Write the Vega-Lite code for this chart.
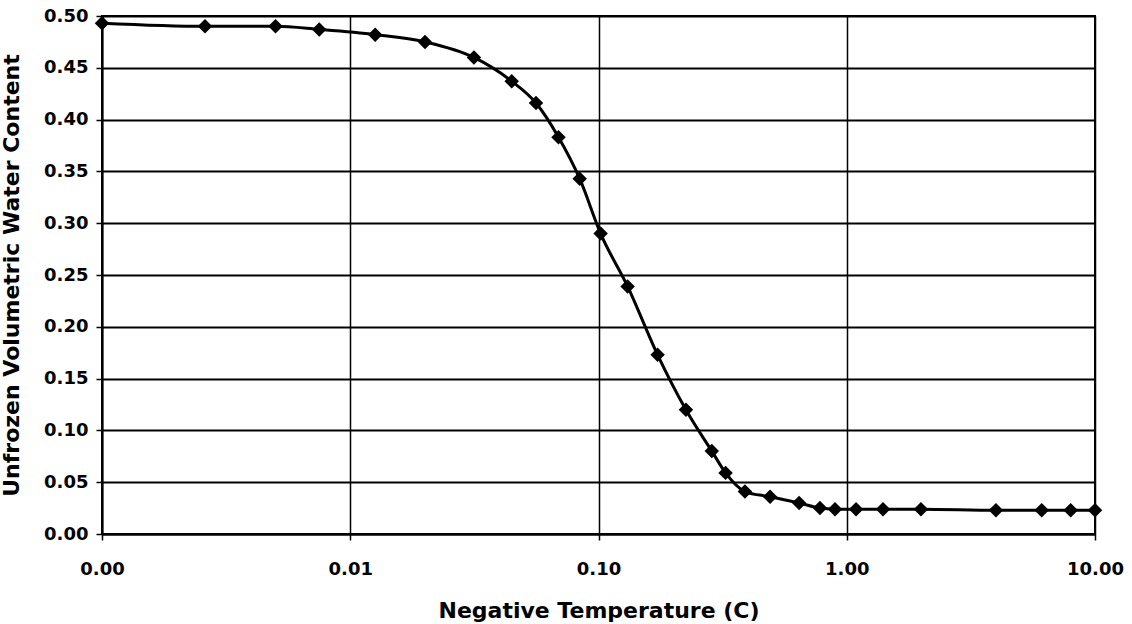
{
  "$schema": "https://vega.github.io/schema/vega-lite/v6.json",
  "width": 993,
  "height": 518,
  "autosize": {"type": "none"},
  "padding": {"left": 102, "top": 16, "right": 37, "bottom": 90},
  "background": "white",
  "config": {
    "font": "DejaVu Sans",
    "view": {"stroke": "black", "strokeWidth": 2},
    "axis": {
      "domainColor": "black", "domainWidth": 2,
      "tickColor": "black", "tickWidth": 1.5, "tickSize": 6,
      "gridColor": "black", "gridOpacity": 1,
      "labelFont": "DejaVu Sans", "labelFontWeight": "bold", "labelFontSize": 18, "labelColor": "black",
      "titleFont": "DejaVu Sans", "titleFontWeight": "bold", "titleFontSize": 22, "titleColor": "black"
    }
  },
  "data": {"values": [
    {"t": 0.001, "w": 0.493},
    {"t": 0.0026, "w": 0.490},
    {"t": 0.005, "w": 0.490},
    {"t": 0.0075, "w": 0.487},
    {"t": 0.0126, "w": 0.482},
    {"t": 0.020, "w": 0.475},
    {"t": 0.0315, "w": 0.460},
    {"t": 0.0447, "w": 0.437},
    {"t": 0.056, "w": 0.416},
    {"t": 0.069, "w": 0.383},
    {"t": 0.084, "w": 0.343},
    {"t": 0.102, "w": 0.290},
    {"t": 0.131, "w": 0.239},
    {"t": 0.173, "w": 0.173},
    {"t": 0.225, "w": 0.120},
    {"t": 0.286, "w": 0.080},
    {"t": 0.325, "w": 0.059},
    {"t": 0.389, "w": 0.041},
    {"t": 0.491, "w": 0.036},
    {"t": 0.643, "w": 0.030},
    {"t": 0.78, "w": 0.025},
    {"t": 0.897, "w": 0.024},
    {"t": 1.09, "w": 0.024},
    {"t": 1.40, "w": 0.024},
    {"t": 1.99, "w": 0.024},
    {"t": 3.99, "w": 0.023},
    {"t": 6.10, "w": 0.023},
    {"t": 7.98, "w": 0.023},
    {"t": 10, "w": 0.023}
  ]},
  "encoding": {
    "x": {
      "field": "t", "type": "quantitative",
      "scale": {"type": "log", "domain": [0.001, 10], "nice": false},
      "axis": {
        "title": "Negative Temperature (C)",
        "values": [0.001, 0.01, 0.1, 1, 10],
        "format": ".2f",
        "grid": true, "gridWidth": 1.5,
        "labelPadding": 20, "titlePadding": 22,
        "labelFlush": false
      }
    },
    "y": {
      "field": "w", "type": "quantitative",
      "scale": {"domain": [0, 0.5], "nice": false},
      "axis": {
        "title": "Unfrozen Volumetric Water Content",
        "values": [0, 0.05, 0.1, 0.15, 0.2, 0.25, 0.3, 0.35, 0.4, 0.45, 0.5],
        "format": ".2f",
        "grid": true, "gridWidth": 2,
        "labelPadding": 8, "titlePadding": 20,
        "labelFlush": false
      }
    }
  },
  "layer": [
    {"mark": {"type": "line", "color": "black", "strokeWidth": 3, "interpolate": "monotone"}},
    {"mark": {"type": "point", "shape": "diamond", "filled": true, "color": "black", "opacity": 1, "size": 210}}
  ]
}
